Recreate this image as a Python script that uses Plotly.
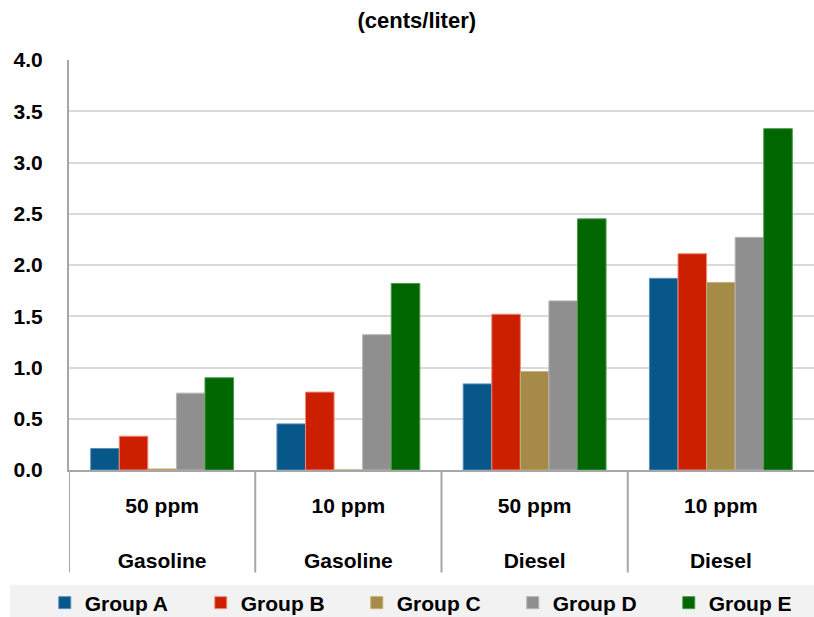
import plotly.graph_objects as go

categories = ["50 ppm<br><br>Gasoline", "10 ppm<br><br>Gasoline", "50 ppm<br><br>Diesel", "10 ppm<br><br>Diesel"]
cat_keys = ["G50", "G10", "D50", "D10"]
group_names = ["Group A", "Group B", "Group C", "Group D", "Group E"]
group_a = [0.21, 0.45, 0.84, 1.87]
group_b = [0.33, 0.76, 1.52, 2.11]
group_c = [0.01, 0.0, 0.96, 1.83]
group_d = [0.75, 1.32, 1.65, 2.27]
group_e = [0.90, 1.82, 2.45, 3.33]
y_ticks = [0.0, 0.5, 1.0, 1.5, 2.0, 2.5, 3.0, 3.5, 4.0]

colors = ["#07578b", "#cc1f00", "#a68b48", "#8f8f8f", "#006600"]
borders = ["#5a8fb8", "#f08a78", "#c4ad77", "#b5b5b5", "#4d994d"]
series = [group_a, group_b, group_c, group_d, group_e]

FONT = "Liberation Sans, Arial, sans-serif"
W, H = 814, 617
LEFT = 69

fig = go.Figure()
for name, vals, col, bcol in zip(group_names, series, colors, borders):
    fig.add_trace(go.Bar(
        x=cat_keys, y=vals, name="<b>" + name + "</b>",
        marker=dict(color=col, line=dict(color=bcol, width=1)),
    ))

shapes = []
# legend band background
shapes.append(dict(type="rect", xref="paper", yref="paper",
                   x0=10 / W, x1=1.01, y0=-0.40, y1=-0.28,
                   fillcolor="#f2f2f2", line=dict(width=0), layer="below"))
# category dividers
for xv in [-0.5, 0.5, 1.5, 2.5]:
    shapes.append(dict(type="line", xref="x", yref="paper",
                       x0=xv, x1=xv, y0=0, y1=-0.25,
                       line=dict(color="#a6a6a6", width=2)))

fig.update_layout(
    width=W, height=H,
    margin=dict(l=0, r=0, t=60, b=147, autoexpand=False),
    paper_bgcolor="white", plot_bgcolor="white",
    barmode="group", bargap=0.233, bargroupgap=0,
    font=dict(family=FONT, size=21, color="#000000"),
    title=dict(text="<b>(cents/liter)</b>", x=0.512, xanchor="center",
               y=1 - 20 / H, yanchor="middle", yref="container",
               font=dict(size=22, family=FONT, color="#000000")),
    xaxis=dict(
        domain=[LEFT / W, 1],
        type="category", range=[-0.5, 3.5],
        tickmode="array", tickvals=cat_keys,
        ticktext=["<b>" + c.replace("<br><br>", "</b><br><br><b>") + "</b>" for c in categories],
        showline=True, linecolor="#a6a6a6", linewidth=2,
        showgrid=False, ticks="", ticklabelstandoff=16,
        tickfont=dict(size=21, family=FONT, color="#000000"),
    ),
    yaxis=dict(
        range=[0, 4], tickmode="array", tickvals=y_ticks,
        ticktext=["<b>%.1f</b>" % v for v in y_ticks],
        showline=True, linecolor="#a6a6a6", linewidth=2,
        showgrid=True, gridcolor="#d9d9d9", gridwidth=2,
        zeroline=False, ticks="", ticklabelstandoff=20,
        tickfont=dict(size=21, family=FONT, color="#000000"),
    ),
    legend=dict(
        orientation="h", xref="container", yref="container",
        x=0.055, xanchor="left", y=1 - 603 / H, yanchor="middle",
        font=dict(size=21, family=FONT, color="#000000"),
        bgcolor="rgba(0,0,0,0)", entrywidth=111, traceorder="normal",
    ),
    shapes=shapes,
)

fig.write_html("out.html")
